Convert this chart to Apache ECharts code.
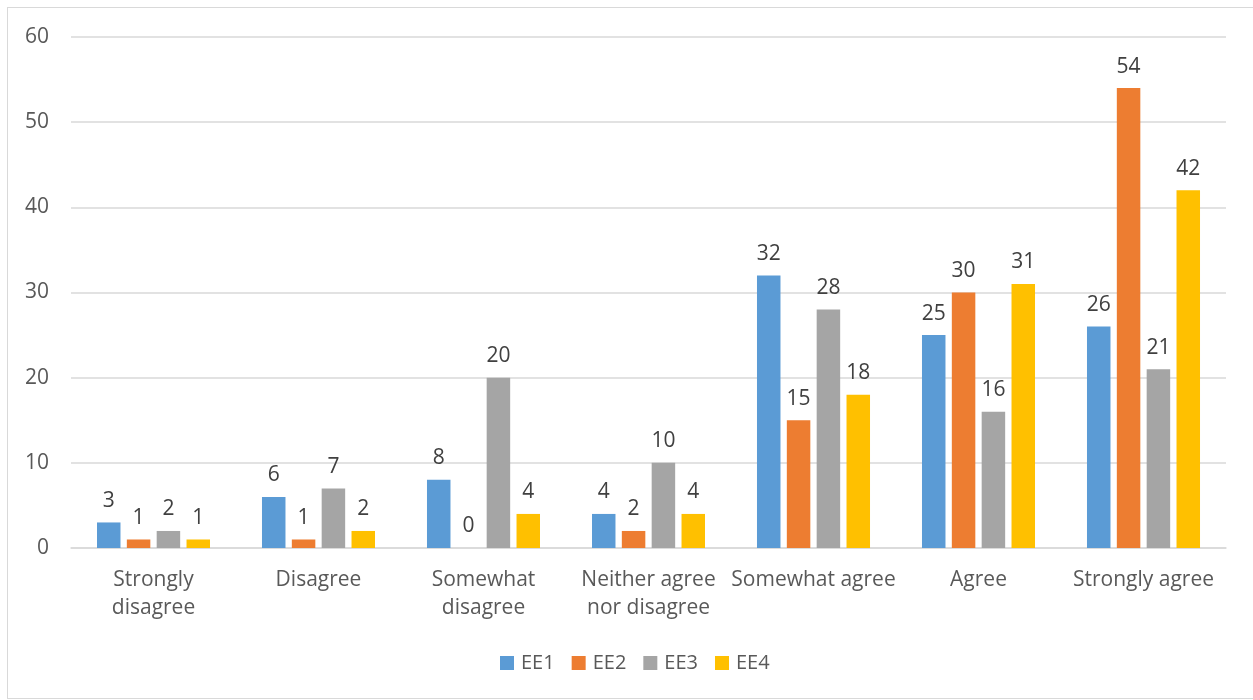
<!DOCTYPE html>
<html>
<head>
<meta charset="utf-8">
<script src="https://cdn.jsdelivr.net/npm/echarts@6/dist/echarts.min.js"></script>
<style>
  html, body { margin: 0; padding: 0; background: #fff; }
  #frame { position: absolute; left: 7px; top: 7px; width: 1260px; height: 692px; border: 1px solid #D9D9D9; box-sizing: border-box; }
  #chart { position: absolute; left: 0; top: 0; width: 1253px; height: 700px; }
</style>
</head>
<body>
<div id="frame"></div>
<div id="chart"></div>
<script>
const categories = ['Strongly\ndisagree', 'Disagree', 'Somewhat\ndisagree', 'Neither agree\nnor disagree', 'Somewhat agree', 'Agree', 'Strongly agree'];
const seriesNames = ['EE1', 'EE2', 'EE3', 'EE4'];
const ee1 = [3, 6, 8, 4, 32, 25, 26];
const ee2 = [1, 1, 0, 2, 15, 30, 54];
const ee3 = [2, 7, 20, 10, 28, 16, 21];
const ee4 = [1, 2, 4, 4, 18, 31, 42];
const colors = ['#5B9BD5', '#ED7D31', '#A5A5A5', '#FFC000'];
const yTicks = { min: 0, max: 60, interval: 10 };

const font = '"Open Sans", "Noto Sans", sans-serif';
const chart = echarts.init(document.getElementById('chart'), null, { renderer: 'canvas' });

const values = [ee1, ee2, ee3, ee4];
const series = seriesNames.map((name, i) => ({
  name,
  type: 'bar',
  data: values[i],
  barWidth: 23.5,
  barGap: '27%',
  itemStyle: { color: colors[i] },
  label: {
    show: true,
    position: 'top',
    distance: 11,
    color: '#404040',
    fontFamily: font,
    fontSize: 21
  }
}));

chart.setOption({
  animation: false,
  color: colors,
  grid: { left: 71, right: 27, top: 37, bottom: 152, containLabel: false },
  legend: {
    bottom: 27,
    left: 500,
    padding: 0,
    itemWidth: 14,
    itemHeight: 14,
    itemGap: 17,
    icon: 'rect',
    textStyle: { color: '#595959', fontFamily: font, fontSize: 20, padding: [0, 0, 0, 2] },
    data: seriesNames
  },
  xAxis: {
    type: 'category',
    data: categories,
    axisLine: { lineStyle: { color: '#D9D9D9', width: 1.5 } },
    axisTick: { show: false },
    axisLabel: {
      color: '#595959',
      fontFamily: font,
      fontSize: 21,
      lineHeight: 28,
      margin: 18,
      interval: 0
    }
  },
  yAxis: {
    type: 'value',
    min: yTicks.min,
    max: yTicks.max,
    interval: yTicks.interval,
    axisLine: { show: false },
    axisTick: { show: false },
    splitLine: { lineStyle: { color: '#D9D9D9', width: 1.5 } },
    axisLabel: {
      color: '#595959',
      fontFamily: font,
      fontSize: 21,
      margin: 22
    }
  },
  series
});
</script>
</body>
</html>
